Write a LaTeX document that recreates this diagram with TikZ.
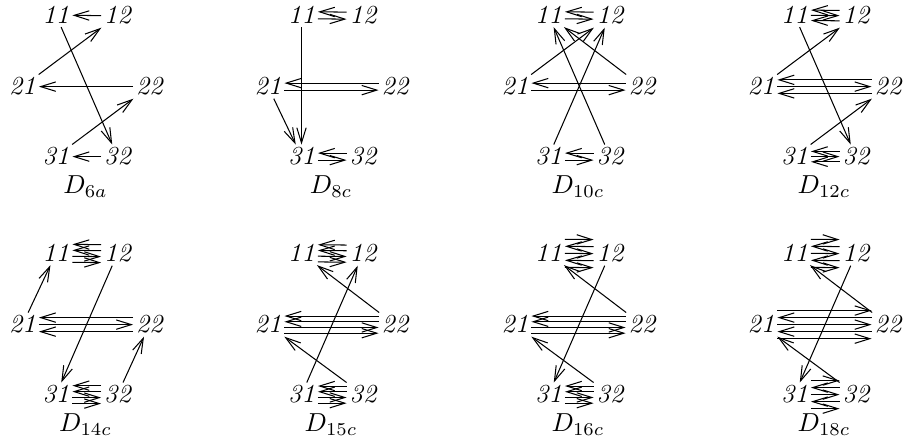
\documentclass[tikz,border=0pt]{standalone}
\usetikzlibrary{arrows.meta}

% parallel arrows between two vertices of one row, one per offset (in pt)
\newcommand\leftbundle[3]{\foreach \s in {#3} \draw[arr] ([yshift=\s pt]#2.west) -- ([yshift=\s pt]#1.east);}
\newcommand\rightbundle[3]{\foreach \s in {#3} \draw[arr] ([yshift=\s pt]#1.east) -- ([yshift=\s pt]#2.west);}

\begin{document}
\begin{tikzpicture}[
    x=0.3846pt, y=-0.3846pt,
    vtx/.style={inner sep=1pt, anchor=base, font=\itshape},
    lbl/.style={inner sep=0pt, anchor=base},
    arr/.style={-{Straight Barb[length=5.8pt,width=3.6pt]}, thin},
  ]
  \useasboundingbox (0,0) rectangle (904,447);

  % six vertices per diagram, placed from vertex 21 and the top baseline
  \foreach \g/\x/\y in {6a/22.5/24, 8c/268/24, 10c/515/24, 12c/761/24,
                        14c/22.5/262, 15c/268/262, 16c/515/262, 18c/761/262} {
    \node[vtx] (\g-11) at (\x+33.5, \y) {11};
    \node[vtx] (\g-12) at (\x+95, \y) {12};
    \node[vtx] (\g-21) at (\x, \y+71) {21};
    \node[vtx] (\g-22) at (\x+127, \y+71) {22};
    \node[vtx] (\g-31) at (\x+33.5, \y+141) {31};
    \node[vtx] (\g-32) at (\x+95, \y+141) {32};
    \node[lbl] (\g-lab) at (\x+63, \y+170) {$D_{\g}$};
  }

  % D_6a
  \leftbundle{6a-11}{6a-12}{0}
  \leftbundle{6a-21}{6a-22}{0}
  \leftbundle{6a-31}{6a-32}{0}
  \draw[arr] (6a-21) -- (6a-12);
  \draw[arr] (6a-11) -- (6a-32);
  \draw[arr] (6a-31) -- (6a-22);

  % D_8c
  \leftbundle{8c-11}{8c-12}{1.35}
  \rightbundle{8c-11}{8c-12}{-1.35}
  \leftbundle{8c-21}{8c-22}{1.35}
  \rightbundle{8c-21}{8c-22}{-1.35}
  \leftbundle{8c-31}{8c-32}{1.35}
  \rightbundle{8c-31}{8c-32}{-1.35}
  \draw[arr] (8c-11) -- (8c-31);
  \draw[arr] (8c-21) -- (8c-31);

  % D_10c
  \leftbundle{10c-11}{10c-12}{1.35}
  \rightbundle{10c-11}{10c-12}{-1.35}
  \leftbundle{10c-21}{10c-22}{1.35}
  \rightbundle{10c-21}{10c-22}{-1.35}
  \leftbundle{10c-31}{10c-32}{1.35}
  \rightbundle{10c-31}{10c-32}{-1.35}
  \draw[arr] (10c-21) -- (10c-12);
  \draw[arr] (10c-31) -- (10c-12);
  \draw[arr] (10c-22) -- (10c-11);
  \draw[arr] (10c-32) -- (10c-11);

  % D_12c
  \leftbundle{12c-11}{12c-12}{2,-2}
  \rightbundle{12c-11}{12c-12}{0}
  \leftbundle{12c-21}{12c-22}{2.6,-2.6}
  \rightbundle{12c-21}{12c-22}{0}
  \leftbundle{12c-31}{12c-32}{2,-2}
  \rightbundle{12c-31}{12c-32}{0}
  \draw[arr] (12c-21) -- (12c-12);
  \draw[arr] (12c-11) -- (12c-32);
  \draw[arr] (12c-31) -- (12c-22);

  % D_14c
  \leftbundle{14c-11}{14c-12}{3.45,1.15}
  \rightbundle{14c-11}{14c-12}{-1.15,-3.45}
  \leftbundle{14c-21}{14c-22}{2.7,-2.7}
  \rightbundle{14c-21}{14c-22}{0}
  \leftbundle{14c-31}{14c-32}{3.45,1.15}
  \rightbundle{14c-31}{14c-32}{-1.15,-3.45}
  \draw[arr] (14c-21) -- (14c-11);
  \draw[arr] (14c-12) -- (14c-31);
  \draw[arr] (14c-32) -- (14c-22);

  % D_15c
  \leftbundle{15c-11}{15c-12}{3.3,1.1}
  \rightbundle{15c-11}{15c-12}{-1.1,-3.3}
  \leftbundle{15c-21}{15c-22}{3.3,1.1}
  \rightbundle{15c-21}{15c-22}{-1.1,-3.3}
  \leftbundle{15c-31}{15c-32}{3.3,1.1}
  \rightbundle{15c-31}{15c-32}{-1.1,-3.3}
  \draw[arr] (15c-22) -- (15c-11);
  \draw[arr] (15c-31) -- (15c-12);
  \draw[arr] (15c-32) -- (15c-21);

  % D_16c
  \rightbundle{16c-11}{16c-12}{5.4,0,-5.4}
  \leftbundle{16c-11}{16c-12}{2.7,-2.7}
  \leftbundle{16c-21}{16c-22}{3.3,1.1}
  \rightbundle{16c-21}{16c-22}{-1.1,-3.3}
  \leftbundle{16c-31}{16c-32}{3.3,1.1}
  \rightbundle{16c-31}{16c-32}{-1.1,-3.3}
  \draw[arr] (16c-22) -- (16c-11);
  \draw[arr] (16c-12) -- (16c-31);
  \draw[arr] (16c-32) -- (16c-21);

  % D_18c
  \rightbundle{18c-11}{18c-12}{5.4,0,-5.4}
  \leftbundle{18c-11}{18c-12}{2.7,-2.7}
  \rightbundle{18c-21}{18c-22}{5.4,0,-5.4}
  \leftbundle{18c-21}{18c-22}{2.7,-2.7}
  \rightbundle{18c-31}{18c-32}{5.4,0,-5.4}
  \leftbundle{18c-31}{18c-32}{2.7,-2.7}
  \draw[arr] (18c-22) -- (18c-11);
  \draw[arr] (18c-12) -- (18c-31);
  \draw[arr] (18c-32) -- (18c-21);
\end{tikzpicture}
\end{document}
